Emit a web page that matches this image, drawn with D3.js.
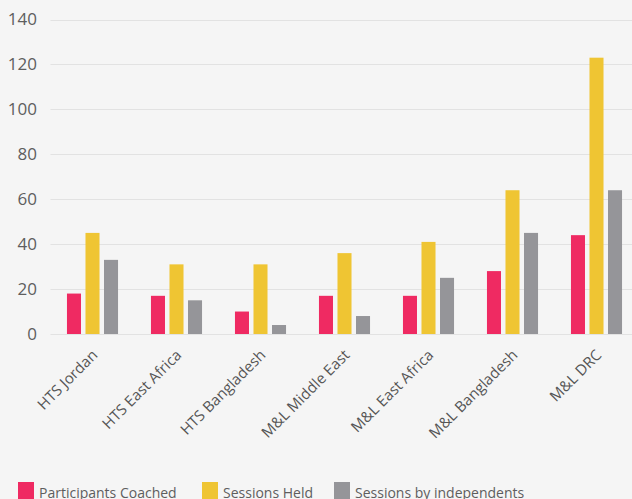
<!DOCTYPE html>
<html>
<head>
<meta charset="utf-8">
<script src="https://cdn.jsdelivr.net/npm/d3@7.9.0/dist/d3.min.js"></script>
<style>
  html, body { margin: 0; padding: 0; background: #f5f5f5; }
  svg { display: block; font-family: "Open Sans", sans-serif; }
</style>
</head>
<body>
<div id="chart"></div>
<script>
const categories = ['HTS Jordan', 'HTS East Africa', 'HTS Bangladesh', 'M&L Middle East', 'M&L East Africa', 'M&L Bangladesh', 'M&L DRC'];
const seriesNames = ['Participants Coached', 'Sessions Held', 'Sessions by independents'];
const participantsCoached = [18, 17, 10, 17, 17, 28, 44];
const sessionsHeld = [45, 31, 31, 36, 41, 64, 123];
const sessionsByIndependents = [33, 15, 4, 8, 25, 45, 64];
const yTicks = [0, 20, 40, 60, 80, 100, 120, 140];
const colors = ['#ef2a62', '#efc533', '#959599'];

const width = 632, height = 499;
const margin = { top: 19.5, right: -6.5, bottom: 165, left: 50.5 };

const series = [participantsCoached, sessionsHeld, sessionsByIndependents];
const data = categories.map((c, i) => ({
  category: c,
  values: seriesNames.map((s, j) => ({ key: s, value: series[j][i], idx: j }))
}));

const svg = d3.select('#chart').append('svg')
  .attr('width', width)
  .attr('height', height);

const x0 = d3.scaleBand()
  .domain(categories)
  .range([margin.left, width - margin.right])
  .paddingInner(0.392)
  .paddingOuter(0.196);

const x1 = d3.scaleBand()
  .domain(seriesNames)
  .range([0, x0.bandwidth()])
  .paddingInner(0.243)
  .paddingOuter(0);

const y = d3.scaleLinear()
  .domain([0, 140])
  .range([height - margin.bottom, margin.top]);

// gridlines
svg.append('g')
  .attr('class', 'grid')
  .selectAll('line')
  .data(yTicks)
  .join('line')
  .attr('x1', margin.left)
  .attr('x2', width)
  .attr('y1', d => Math.round(y(d)) + 0.5)
  .attr('y2', d => Math.round(y(d)) + 0.5)
  .attr('stroke', '#e2e2e2')
  .attr('stroke-width', 1.2);

// y axis labels
svg.append('g')
  .selectAll('text')
  .data(yTicks)
  .join('text')
  .attr('x', 37)
  .attr('y', d => y(d))
  .attr('dy', '0.35em')
  .attr('text-anchor', 'end')
  .attr('fill', '#5e5e5e')
  .style('font-size', '17px')
  .text(d => d);

// bars
const groups = svg.append('g')
  .selectAll('g')
  .data(data)
  .join('g')
  .attr('transform', d => `translate(${x0(d.category)},0)`);

groups.selectAll('rect')
  .data(d => d.values)
  .join('rect')
  .attr('x', d => x1(d.key))
  .attr('width', x1.bandwidth())
  .attr('y', d => y(d.value))
  .attr('height', d => y(0) - y(d.value))
  .attr('fill', d => colors[d.idx]);

// x labels
svg.append('g')
  .selectAll('text')
  .data(categories)
  .join('text')
  .attr('transform', d => `translate(${x0(d) + x0.bandwidth() / 2 + 6},${y(0) + 22}) rotate(-45)`)
  .attr('text-anchor', 'end')
  .attr('fill', '#555')
  .style('font-size', '15px')
  .text(d => d);

// legend
const legendX = [18, 202, 334];
const legend = svg.append('g')
  .selectAll('g')
  .data(seriesNames)
  .join('g')
  .attr('transform', (d, i) => `translate(${legendX[i]},482)`);

legend.append('rect')
  .attr('width', 16)
  .attr('height', 17)
  .attr('fill', (d, i) => colors[i]);

legend.append('text')
  .attr('x', 21)
  .attr('y', 16)
  .attr('fill', '#5e5e5e')
  .style('font-size', '14px')
  .text(d => d);
</script>
</body>
</html>
